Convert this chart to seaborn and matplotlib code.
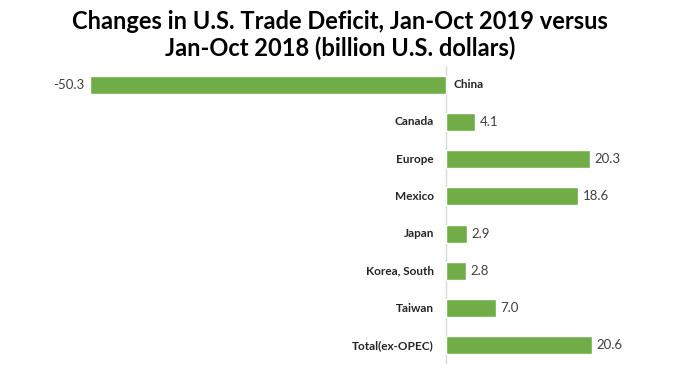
import pandas as pd
import matplotlib.pyplot as plt
import seaborn as sns

regions = ['China', 'Canada', 'Europe', 'Mexico', 'Japan', 'Korea, South', 'Taiwan', 'Total(ex-OPEC)']
changes = [-50.3, 4.1, 20.3, 18.6, 2.9, 2.8, 7.0, 20.6]

df = pd.DataFrame({'region': regions, 'change': changes})

sns.set_style('white')
plt.rcParams['font.family'] = ['Lato', 'DejaVu Sans']

fig = plt.figure(figsize=(6.8, 3.83), dpi=100)
ax = fig.add_axes([50 / 680, 1 - 364 / 383, 600 / 680, 298 / 383])

sns.barplot(data=df, x='change', y='region', orient='h', color='#70AD47',
            saturation=1, width=0.48, ax=ax)

ax.set_xlim(-55.9, 28.8)
ax.set_ylim(7.5, -0.5)
ax.axvline(0, color='#D9D9D9', lw=1, zorder=0)

# category labels next to the zero line, value labels at the bar ends
for i, (name, val) in enumerate(zip(regions, changes)):
    if val < 0:
        ax.text(1.0, i, name, ha='left', va='center', fontsize=8.5, fontweight='bold', color='#262626')
        ax.text(val - 0.7, i, f'{val:.1f}', ha='right', va='center', fontsize=9.5, color='#404040')
    else:
        ax.text(-1.7, i, name, ha='right', va='center', fontsize=8.5, fontweight='bold', color='#262626')
        ax.text(val + 0.7, i, f'{val:.1f}', ha='left', va='center', fontsize=9.5, color='#404040')

ax.set_xticks([])
ax.set_yticks([])
ax.set_xlabel('')
ax.set_ylabel('')
sns.despine(ax=ax, left=True, bottom=True)

fig.text(0.5, 0.975, 'Changes in U.S. Trade Deficit, Jan-Oct 2019 versus\nJan-Oct 2018 (billion U.S. dollars)',
         ha='center', va='top', fontsize=17, fontweight='bold', color='black', linespacing=1.2)

fig.savefig('out.png', dpi=100)
